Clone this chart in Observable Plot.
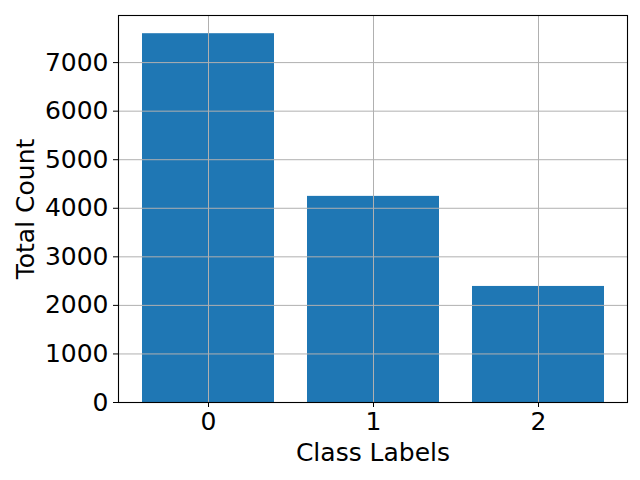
<!DOCTYPE html>
<html>
<head>
<meta charset="utf-8">
<script src="https://cdn.jsdelivr.net/npm/d3@7"></script>
<script src="https://cdn.jsdelivr.net/npm/@observablehq/plot@0.6"></script>
<style>
  html, body { margin: 0; padding: 0; background: white; }
  svg { display: block; }
  #chart svg text { font-size: 25px !important; font-family: "DejaVu Sans", sans-serif !important; fill: black; }
</style>
</head>
<body>
<div id="chart"></div>
<script>
const classLabels = ["0", "1", "2"];
const totalCounts = [7595, 4245, 2390];
const yTicks = [0, 1000, 2000, 3000, 4000, 5000, 6000, 7000];

const data = classLabels.map((c, i) => ({label: c, count: totalCounts[i]}));

const font = "DejaVu Sans, sans-serif";
const chart = Plot.plot({
  width: 640,
  height: 480,
  marginLeft: 118,
  marginRight: 13,
  marginTop: 15,
  marginBottom: 78,
  style: {fontFamily: font, fontSize: "25px", background: "white", color: "black"},
  x: {domain: classLabels, paddingInner: 0.2, paddingOuter: 0.14, align: 0.5},
  y: {domain: [0, 7970]},
  marks: [
    Plot.barY(data, {x: "label", y: "count", fill: "#1f77b4"}),
    Plot.gridY(yTicks, {stroke: "#b0b0b0", strokeOpacity: 1, strokeWidth: 1}),
    Plot.gridX(classLabels, {stroke: "#b0b0b0", strokeOpacity: 1, strokeWidth: 1}),
    Plot.axisY(yTicks, {tickSize: 5, tickPadding: 5, tickFormat: d3.format("d"), label: null, stroke: "black"}),
    Plot.axisX(classLabels, {tickSize: 5, tickPadding: 5, label: null, stroke: "black"}),
    Plot.frame({stroke: "black", strokeWidth: 1.1}),
    Plot.text(["Class Labels"], {frameAnchor: "bottom", textAnchor: "middle", dy: 58, fill: "black"}),
    Plot.text(["Total Count"], {frameAnchor: "left", textAnchor: "middle", dx: -93, rotate: -90, fill: "black"})
  ]
});
document.getElementById("chart").appendChild(chart);
</script>
</body>
</html>
